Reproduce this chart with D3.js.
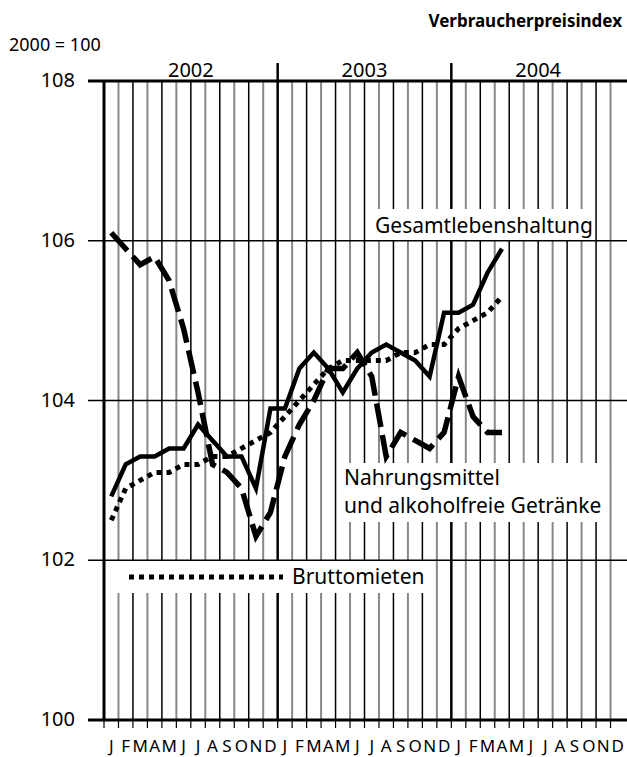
<!DOCTYPE html>
<html>
<head>
<meta charset="utf-8">
<script src="https://cdn.jsdelivr.net/npm/d3@7"></script>
<style>
  body { margin: 0; background: #fff; }
  text { font-family: "Noto Sans", "Open Sans", sans-serif; fill: #000; }
</style>
</head>
<body>
<div id="chart"></div>
<script>
// Verbraucherpreisindex, 2000 = 100, monthly Jan 2002 .. Apr 2004
const years = ["2002", "2003", "2004"];
const monthLabels = ["J", "F", "M", "A", "M", "J", "J", "A", "S", "O", "N", "D"];
const yTicks = [100, 102, 104, 106, 108];

const gesamt = [102.8, 103.2, 103.3, 103.3, 103.4, 103.4, 103.7, 103.5, 103.3, 103.3, 102.9, 103.9,
                103.9, 104.4, 104.6, 104.4, 104.1, 104.4, 104.6, 104.7, 104.6, 104.5, 104.3, 105.1,
                105.1, 105.2, 105.6, 105.9];
const nahrung = [106.1, 105.9, 105.7, 105.8, 105.5, 104.9, 104.1, 103.2, 103.1, 102.9, 102.3, 102.6,
                 103.3, 103.7, 104.0, 104.4, 104.4, 104.6, 104.3, 103.3, 103.6, 103.5, 103.4, 103.6,
                 104.3, 103.8, 103.6, 103.6];
const miete = [102.5, 102.9, 103.0, 103.1, 103.1, 103.2, 103.2, 103.3, 103.3, 103.4, 103.5, 103.6,
               103.8, 104.0, 104.2, 104.4, 104.5, 104.5, 104.5, 104.5, 104.6, 104.6, 104.7, 104.7,
               104.9, 105.0, 105.1, 105.3];

const width = 627, height = 757;
const svg = d3.select("#chart").append("svg")
    .attr("width", width)
    .attr("height", height);

const nMonths = years.length * 12;
const x = d3.scaleLinear().domain([0, nMonths]).range([104, 625]);
const y = d3.scaleLinear().domain([100, 108]).range([720, 81]);

// vertical month lines
const grid = svg.append("g");
d3.range(1, nMonths).forEach(k => {
    const isYear = k % 12 === 0;
    grid.append("line")
        .attr("x1", x(k)).attr("x2", x(k))
        .attr("y1", isYear ? 63 : y(108)).attr("y2", y(100))
        .attr("stroke", k % 2 ? "#888" : "#000")
        .attr("stroke-width", isYear ? 2.5 : (k % 2 ? 2 : 1.5));
});

// white label boxes that interrupt the grid
const boxes = [
    { x0: x(18) + 1.5, x1: x(34) - 1.5, y0: 209, y1: y(106) },
    { x0: x(16) + 1.5, x1: x(35) - 1.5, y0: 463, y1: 522 },
    { x0: x(0), x1: 430, y0: y(102), y1: 593 }
];
svg.append("g").selectAll("rect")
    .data(boxes)
    .join("rect")
    .attr("x", d => d.x0)
    .attr("y", d => d.y0)
    .attr("width", d => d.x1 - d.x0)
    .attr("height", d => d.y1 - d.y0)
    .attr("fill", "#fff");

// horizontal lines + y ticks
yTicks.forEach(v => {
    const edge = v === 100 || v === 108;
    svg.append("line")
        .attr("x1", 88).attr("x2", width)
        .attr("y1", y(v)).attr("y2", y(v))
        .attr("stroke", "#000")
        .attr("stroke-width", edge ? 3 : 1.5);
    svg.append("text")
        .attr("x", 75)
        .attr("y", y(v) + 6)
        .attr("text-anchor", "end")
        .style("font-size", "20px")
        .text(v);
});

// left axis
svg.append("line")
    .attr("x1", x(0)).attr("x2", x(0))
    .attr("y1", y(108)).attr("y2", y(100))
    .attr("stroke", "#000").attr("stroke-width", 3);

// bottom month ticks and labels
d3.range(0, nMonths).forEach(k => {
    svg.append("line")
        .attr("x1", x(k)).attr("x2", x(k))
        .attr("y1", y(100)).attr("y2", y(100) + 8)
        .attr("stroke", "#000").attr("stroke-width", 1.2);
    svg.append("text")
        .attr("x", x(k + 0.5))
        .attr("y", 752)
        .attr("text-anchor", "middle")
        .style("font-size", "17px")
        .text(monthLabels[k % 12]);
});

// year labels on top
years.forEach((yr, i) => {
    svg.append("text")
        .attr("x", x(i * 12 + 6))
        .attr("y", 77)
        .attr("text-anchor", "middle")
        .style("font-size", "20px")
        .text(yr);
});

// series
const line = d3.line()
    .x((d, i) => x(i + 0.5))
    .y(d => y(d));

svg.append("path").datum(nahrung)
    .attr("d", line)
    .attr("fill", "none").attr("stroke", "#000")
    .attr("stroke-width", 5.5)
    .attr("stroke-dasharray", "24,8");

svg.append("path").datum(miete)
    .attr("d", line)
    .attr("fill", "none").attr("stroke", "#000")
    .attr("stroke-width", 5)
    .attr("stroke-dasharray", "5,5");

svg.append("path").datum(gesamt)
    .attr("d", line)
    .attr("fill", "none").attr("stroke", "#000")
    .attr("stroke-width", 4.5)
    .attr("stroke-linejoin", "miter");

// labels
svg.append("text")
    .attr("x", 375).attr("y", 233)
    .style("font-size", "21px")
    .text("Gesamtlebenshaltung");

svg.append("text")
    .attr("x", 344).attr("y", 485)
    .style("font-size", "21px")
    .text("Nahrungsmittel");
svg.append("text")
    .attr("x", 344).attr("y", 513)
    .style("font-size", "21px")
    .text("und alkoholfreie Getränke");

svg.append("line")
    .attr("x1", 129).attr("x2", 283)
    .attr("y1", 577).attr("y2", 577)
    .attr("stroke", "#000").attr("stroke-width", 5)
    .attr("stroke-dasharray", "5,5");
svg.append("text")
    .attr("x", 292).attr("y", 584)
    .style("font-size", "21px")
    .text("Bruttomieten");

// titles
svg.append("text")
    .attr("x", 622).attr("y", 27)
    .attr("text-anchor", "end")
    .style("font-size", "17px")
    .style("font-weight", "bold")
    .text("Verbraucherpreisindex");
svg.append("text")
    .attr("x", 9).attr("y", 51)
    .style("font-size", "18px")
    .text("2000 = 100");
</script>
</body>
</html>
